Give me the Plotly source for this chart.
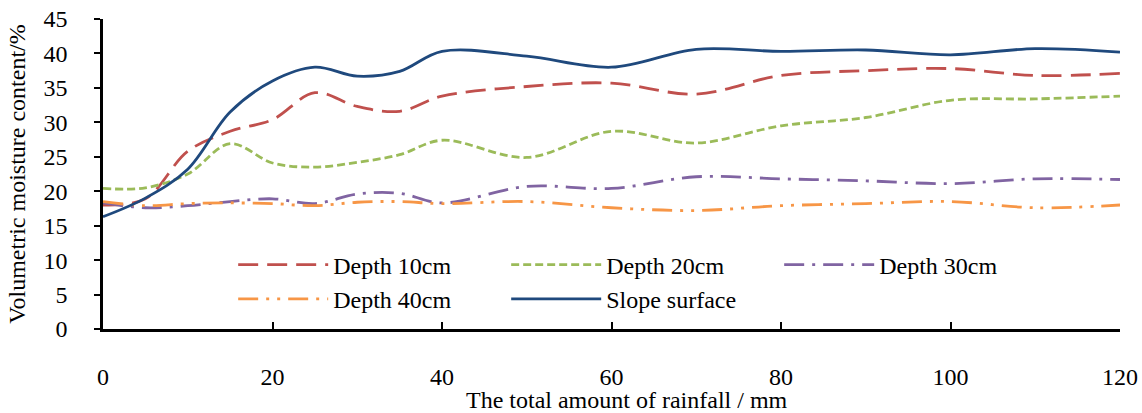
import plotly.graph_objects as go

rainfall = [0, 5, 10, 15, 20, 25, 30, 35, 40, 50, 60, 70, 80, 90, 100, 110, 120]
depth10 = [18.0, 18.9, 25.8, 28.7, 30.4, 34.3, 32.3, 31.6, 33.8, 35.2, 35.7, 34.1, 36.8, 37.5, 37.8, 36.8, 37.1]
depth20 = [20.4, 20.5, 22.5, 26.9, 24.1, 23.5, 24.2, 25.3, 27.4, 24.9, 28.7, 27.0, 29.5, 30.7, 33.2, 33.4, 33.8]
depth30 = [18.3, 17.6, 17.9, 18.5, 18.9, 18.2, 19.6, 19.7, 18.3, 20.7, 20.4, 22.1, 21.8, 21.5, 21.1, 21.8, 21.7]
depth40 = [18.5, 17.9, 18.2, 18.3, 18.2, 17.9, 18.4, 18.5, 18.2, 18.5, 17.6, 17.2, 17.9, 18.2, 18.5, 17.6, 18.0]
slope = [16.3, 19.0, 23.2, 31.5, 36.0, 38.0, 36.7, 37.4, 40.3, 39.6, 38.0, 40.6, 40.3, 40.5, 39.8, 40.7, 40.2]

names = ["Depth 10cm", "Depth 20cm", "Depth 30cm", "Depth 40cm", "Slope surface"]
colors = ["#C0504D", "#9BBB59", "#8064A2", "#F79646", "#1F497D"]
dashes = ["20px,9px", "8px,4px", "20px,8px,3px,8px", "20px,8px,3px,8px,3px,8px", "solid"]
series = [depth10, depth20, depth30, depth40, slope]

FONT = "Liberation Serif, Times New Roman, serif"

fig = go.Figure()
for n, c, d, s in zip(names, colors, dashes, series):
    fig.add_trace(go.Scatter(
        x=rainfall, y=s, name=n, mode="lines",
        line=dict(color=c, width=2.8, dash=d, shape="spline", smoothing=1.0),
    ))

fig.update_layout(
    width=1142, height=413,
    margin=dict(l=103, r=22, t=19, b=84),
    paper_bgcolor="white", plot_bgcolor="white",
    font=dict(family=FONT, size=24, color="black"),
    showlegend=True,
    legend=dict(
        orientation="h", x=0.128, y=0.279, xanchor="left", yanchor="top",
        xref="paper", yref="paper",
        entrywidth=168, entrywidthmode="pixels",
        itemwidth=90,
        bgcolor="rgba(0,0,0,0)",
        font=dict(family=FONT, size=24, color="black"),
        tracegroupgap=0,
    ),
    xaxis=dict(
        range=[0, 120], tickvals=[0, 20, 40, 60, 80, 100, 120],
        showgrid=False, zeroline=False, automargin=False,
        showline=True, linecolor="black", linewidth=2.5,
        ticks="inside", ticklen=7, tickwidth=2, tickcolor="black",
        ticklabelstandoff=24,
        tickfont=dict(family=FONT, size=24, color="black"),
    ),
    yaxis=dict(
        range=[0, 45], tickvals=[0, 5, 10, 15, 20, 25, 30, 35, 40, 45],
        showgrid=False, zeroline=False, automargin=False,
        showline=True, linecolor="black", linewidth=2.5,
        ticks="outside", ticklen=6, tickwidth=2, tickcolor="black",
        ticklabelstandoff=22,
        tickfont=dict(family=FONT, size=24, color="black"),
        title=dict(text="Volumetric moisture content/%", standoff=12,
                   font=dict(family=FONT, size=24, color="black")),
    ),
    annotations=[dict(
        text="The total amount of rainfall / mm", xref="paper", yref="paper",
        x=0.515, y=0, yshift=-71, xanchor="center", yanchor="middle",
        showarrow=False, font=dict(family=FONT, size=24, color="black"),
    )],
)

fig.write_html("out.html")
